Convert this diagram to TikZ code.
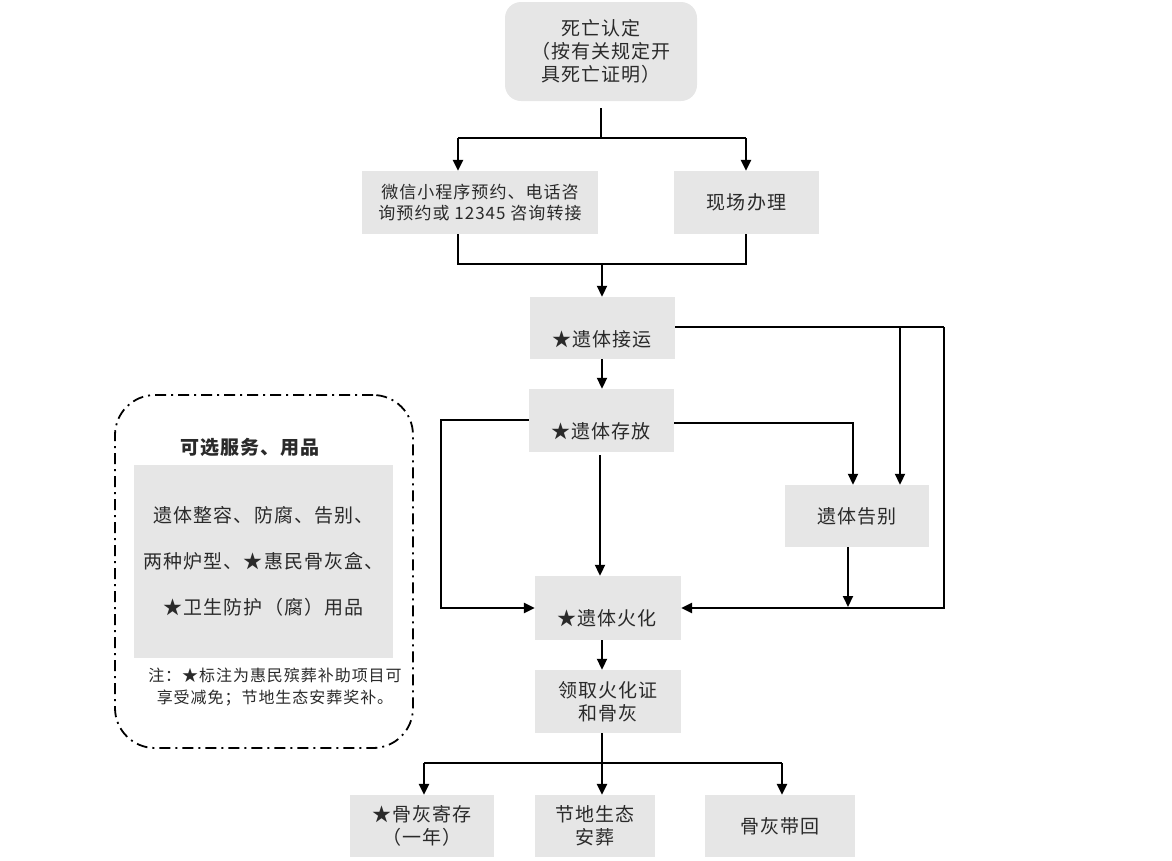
\documentclass[tikz,border=0pt]{standalone}
\usepackage{fontspec}
\setmainfont[LetterSpace=6]{Noto Sans CJK SC}
\usetikzlibrary{arrows.meta}
\definecolor{boxgray}{HTML}{E6E6E6}
\definecolor{txt}{HTML}{2A2A2A}
\begin{document}
\begin{tikzpicture}[x=1pt,y=1pt,
  box/.style={fill=boxgray, draw=none, inner sep=0pt, text=txt, align=center,
    font=\fontsize{19}{23}\selectfont},
  lbl/.style={inner sep=0pt, text=txt, align=center, font=\fontsize{19}{23}\selectfont},
  thk/.style={line width=2.6pt},
  thn/.style={line width=1.9pt},
  tip/.style={-{Triangle[length=11pt,width=10pt]}},
  legbox/.style={draw, line width=1.8pt, dash pattern=on 11pt off 5pt on 2pt off 5pt, rounded corners=40pt}]
\useasboundingbox (0,0) rectangle (1172,-860);
% boxes
\node[box, rounded corners=16pt, minimum width=192pt, minimum height=99pt] (death) at (601,-51.5)
  {死亡认定\\（按有关规定开\\具死亡证明）};
\node[box, minimum width=236pt, minimum height=63pt, font=\fontsize{17}{20.5}\selectfont] (wx) at (480,-202.5)
  {微信小程序预约、电话咨\\询预约或 12345 咨询转接};
\node[box, minimum width=145pt, minimum height=63pt] (xc) at (746.5,-202.5) {现场办理};
\node[box, minimum width=145pt, minimum height=62pt] (jy) at (602.5,-328) {};
\node[lbl] (jyt) at (602,-339) {★遗体接运};
\node[box, minimum width=145pt, minimum height=63pt] (cf) at (601.5,-420.5) {};
\node[lbl] (cft) at (601,-431) {★遗体存放};
\node[box, minimum width=144pt, minimum height=62pt] (gb) at (857,-516) {遗体告别};
\node[box, minimum width=146pt, minimum height=64pt] (hh) at (608,-608) {};
\node[lbl] (hht) at (607,-618) {★遗体火化};
\node[box, minimum width=146pt, minimum height=63pt] (lq) at (608,-701.5) {领取火化证\\和骨灰};
\node[box, minimum width=144pt, minimum height=62pt] (jc) at (422,-826) {★骨灰寄存\\（一年）};
\node[box, minimum width=120pt, minimum height=62pt] (jd) at (595,-826) {节地生态\\安葬};
\node[box, minimum width=150pt, minimum height=62pt] (dh) at (780,-826) {骨灰带回};
% legend
\node[legbox, minimum width=298pt, minimum height=353pt] (leg) at (264,-571.5) {};
\node[lbl, font=\fontsize{19}{23}\selectfont\bfseries] (legt) at (250,-447) {可选服务、用品};
\node[box, minimum width=259pt, minimum height=193pt, font=\fontsize{19}{46}\selectfont] (legb) at (263.5,-561.5)
  {遗体整容、防腐、告别、\\两种炉型、★惠民骨灰盒、\\★卫生防护（腐）用品};
\node[lbl, font=\fontsize{16}{22}\selectfont] (note) at (275,-687)
  {注：★标注为惠民殡葬补助项目可\\享受减免；节地生态安葬奖补。};
% coordinates
\coordinate (t1) at (601,-138);
\coordinate (t1l) at (458,-138);
\coordinate (t1r) at (746,-138);
\coordinate (t2) at (602,-264);
\coordinate (t2l) at (458,-264);
\coordinate (t2r) at (746,-264);
\coordinate (r1) at (944,-327);
\coordinate (b1) at (900,-327);
\coordinate (s1) at (853,-423);
\coordinate (l1) at (441,-420);
\coordinate (g1) at (848,-607);
\coordinate (h1) at (602,-640);
\coordinate (q1) at (602,-763);
\coordinate (ql) at (424,-763);
\coordinate (qr) at (782,-763);
% connectors
\draw[thk] ([yshift=-7pt]death.south) -- (t1);
\draw[thk] (t1l) -- (t1r);
\draw[thk,tip] (t1l) -- (t1l |- wx.north);
\draw[thk,tip] (t1r) -- (t1r |- xc.north);
\draw[thk] (t2l |- wx.south) -- (t2l) -- (t2r) -- (t2r |- xc.south);
\draw[thn,tip] (t2) -- (t2 |- jy.north);
\draw[thn,tip] (t2 |- jy.south) -- (t2 |- cf.north);
\draw[thn] (jy.east |- r1) -- (r1);
\draw[thk,tip] (r1) -- (r1 |- hh.east) -- (hh.east);
\draw[thn,tip] (b1) -- (b1 |- gb.north);
\draw[thn,tip] (cf.east |- s1) -- (s1) -- (s1 |- gb.north);
\draw[thk,tip] (cf.west |- l1) -- (l1) -- (l1 |- hh.west) -- (hh.west);
\draw[thn,tip] ([yshift=-3pt]cf.south -| 600,0) -- (600,0 |- hh.north);
\draw[thn,tip] (g1 |- gb.south) -- (g1);
\draw[thn,tip] (h1) -- (h1 |- lq.north);
\draw[thk] (q1 |- lq.south) -- (q1);
\draw[thk] (ql) -- (qr);
\draw[thk,tip] (ql) -- (ql |- jc.north);
\draw[thk,tip] (q1) -- (q1 |- jd.north);
\draw[thk,tip] (qr) -- (qr |- dh.north);
\end{tikzpicture}
\end{document}
